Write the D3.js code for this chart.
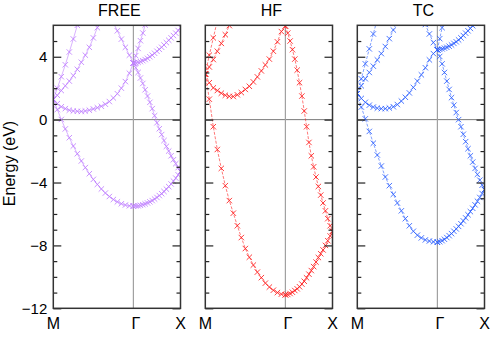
<!DOCTYPE html>
<html>
<head>
<meta charset="utf-8">
<script src="https://cdn.jsdelivr.net/npm/d3@7"></script>
<style>
  body { margin: 0; background: #fff; }
  svg { display: block; font-family: "Liberation Sans", Arial, Helvetica, sans-serif; }
</style>
</head>
<body>
<div id="chart"></div>
<script>
"use strict"

// k sampling along M-Gamma and Gamma-X (fraction of each segment)
const kFrac = [0,0.05,0.1,0.15,0.2,0.25,0.3,0.35,0.4,0.45,0.5,0.55,0.6,0.65,0.7,0.75,0.8,0.85,0.9,0.95,1];
const kLabels = ["M", "Γ", "X"];
const yMajor = [-12, -8, -4, 0, 4];
const yMinor = [-11,-10,-9,-7,-6,-5,-3,-2,-1,1,2,3,5];
const titles = ["FREE", "HF", "TC"];

const _ = null;

// FREE bands, energies in eV
const freeMG1 = [1.3,0.64,0.01,-0.59,-1.15,-1.68,-2.17,-2.63,-3.05,-3.44,-3.8,-4.12,-4.41,-4.67,-4.89,-5.08,-5.23,-5.35,-5.43,-5.48,-5.5];
const freeMG2 = [1.27,1.02,0.82,0.7,0.6,0.55,0.53,0.52,0.55,0.6,0.68,0.76,0.85,0.98,1.15,1.38,1.65,2.0,2.42,2.95,3.6];
const freeMG3 = [1.27,1.55,1.85,2.15,2.45,2.8,3.2,3.65,4.1,4.6,5.2,5.85,6.5,_,_,_,_,_,_,_,_];
const freeMG4 = [1.3,2.0,2.73,3.49,4.3,5.13,6.0,6.9,_,_,_,_,_,_,_,_,_,_,_,_,_];
const freeMG5 = [_,_,_,_,_,_,_,_,_,_,_,_,_,_,_,6.15,5.65,5.12,4.6,4.1,3.6];
const freeGX1 = [-5.5,-5.49,-5.48,-5.45,-5.41,-5.36,-5.3,-5.23,-5.15,-5.05,-4.95,-4.83,-4.71,-4.57,-4.42,-4.26,-4.09,-3.91,-3.72,-3.51,-3.3];
const freeGX2 = [3.6,3.61,3.65,3.69,3.75,3.82,3.9,4.0,4.1,4.22,4.35,4.47,4.6,4.75,4.9,5.05,5.2,5.35,5.5,5.67,5.85];
const freeGX3 = [3.6,3.3,3.0,2.65,2.3,1.9,1.5,1.1,0.7,0.25,-0.2,-0.58,-0.95,-1.33,-1.7,-2.0,-2.3,-2.55,-2.8,-3.05,-3.3];
const freeGX4 = [3.6,4.07,4.53,5.02,5.51,6.02,6.5,_,_,_,_,_,_,_,_,_,_,_,_,_,_];

// HF bands
const hfMG1 = [2.9,1.3,-0.45,-1.9,-3.1,-4.2,-5.15,-5.95,-6.75,-7.5,-8.2,-8.75,-9.25,-9.7,-10.05,-10.4,-10.65,-10.85,-11.0,-11.1,-11.14];
const hfMG2 = [2.9,2.35,2.02,1.85,1.68,1.55,1.48,1.47,1.58,1.72,1.92,2.12,2.4,2.72,3.1,3.48,3.85,4.35,4.95,5.6,5.95];
const hfMG3 = [2.9,3.35,3.82,4.35,4.85,5.4,5.98,6.6,_,_,_,_,_,_,_,_,_,_,_,_,_];
const hfMG4 = [2.9,4.1,5.2,6.3,_,_,_,_,_,_,_,_,_,_,_,_,_,_,_,_,_];
const hfGX1 = [-11.14,-11.12,-11.06,-10.98,-10.87,-10.76,-10.63,-10.46,-10.28,-10.06,-9.83,-9.6,-9.35,-9.06,-8.77,-8.53,-8.29,-8.0,-7.7,-7.4,-7.1];
const hfGX2 = [5.95,5.5,5.0,4.45,3.85,3.15,2.35,1.5,0.55,-0.45,-1.45,-2.3,-3.0,-3.65,-4.25,-4.8,-5.3,-5.8,-6.3,-6.75,-7.1];

// TC bands
const tcMG1 = [1.65,0.8,0.05,-0.75,-1.5,-2.25,-2.95,-3.65,-4.2,-4.75,-5.3,-5.8,-6.3,-6.75,-7.1,-7.35,-7.52,-7.65,-7.72,-7.77,-7.8];
const tcMG2 = [1.65,1.35,1.1,0.92,0.8,0.73,0.7,0.7,0.74,0.82,0.96,1.18,1.42,1.7,2.05,2.45,2.85,3.3,3.8,4.2,4.45];
const tcMG3 = [1.65,2.15,2.6,3.0,3.4,3.8,4.2,4.65,5.15,5.7,6.3,_,_,_,_,_,_,_,_,_,_];
const tcMG4 = [1.65,2.6,3.55,4.5,5.45,6.4,_,_,_,_,_,_,_,_,_,_,_,_,_,_,_];
const tcMG5 = [_,_,_,_,_,_,_,_,_,_,_,_,_,_,_,_,6.6,6.05,5.45,4.9,4.45];
const tcGX1 = [-7.8,-7.76,-7.7,-7.61,-7.5,-7.38,-7.25,-7.1,-6.95,-6.79,-6.62,-6.44,-6.25,-6.05,-5.85,-5.64,-5.42,-5.19,-4.95,-4.7,-4.45];
const tcGX2 = [4.45,4.02,3.55,3.0,2.45,1.92,1.4,0.92,0.45,0.0,-0.45,-0.93,-1.4,-1.85,-2.3,-2.7,-3.1,-3.48,-3.85,-4.17,-4.45];
const tcGX3 = [4.45,4.47,4.5,4.55,4.6,4.67,4.75,4.85,4.95,5.07,5.2,5.35,5.5,5.65,5.8,5.97,6.15,_,_,_,_];
const tcGX4 = [4.45,5.15,5.85,6.5,_,_,_,_,_,_,_,_,_,_,_,_,_,_,_,_,_];

// path lengths: |M-Gamma| and |Gamma-X|
const lenMG = 1.7, lenGX = 1.0;

const panels = [
    { title: titles[0], color: "#bf80ff", dash: null,
      mg: [freeMG1, freeMG2, freeMG3, freeMG4, freeMG5], gx: [freeGX1, freeGX2, freeGX3, freeGX4] },
    { title: titles[1], color: "#ff1f1f", dash: "3,1.5",
      mg: [hfMG1, hfMG2, hfMG3, hfMG4], gx: [hfGX1, hfGX2] },
    { title: titles[2], color: "#2f62ff", dash: "3,1.5",
      mg: [tcMG1, tcMG2, tcMG3, tcMG4, tcMG5], gx: [tcGX1, tcGX2, tcGX3, tcGX4] }
];

const width = 491, height = 338;
const plotTop = 25.3, plotBottom = 308.3;
const panelW = 127.2, panelLeft = [53.3, 205.3, 357.3];

const svg = d3.select("#chart").append("svg")
    .attr("width", width)
    .attr("height", height);

const y = d3.scaleLinear().domain([-12, 6]).range([plotBottom, plotTop]);

panels.forEach((p, i) => {
    const x0 = panelLeft[i];
    const x = d3.scaleLinear().domain([0, lenMG + lenGX]).range([x0, x0 + panelW]);
    const g = svg.append("g");

    g.append("clipPath").attr("id", "clip" + i)
        .append("rect")
        .attr("x", x0).attr("y", plotTop)
        .attr("width", panelW).attr("height", plotBottom - plotTop);

    // zero line and Gamma line
    g.append("line")
        .attr("x1", x0).attr("x2", x0 + panelW)
        .attr("y1", y(0)).attr("y2", y(0))
        .attr("stroke", "#7a7a7a").attr("stroke-width", 1);
    g.append("line")
        .attr("x1", x(lenMG)).attr("x2", x(lenMG))
        .attr("y1", plotTop).attr("y2", plotBottom)
        .attr("stroke", "#a0a0a0").attr("stroke-width", 1.2);

    // collect bands as point lists
    const bands = [];
    p.mg.forEach(arr => bands.push(arr.map((e, j) => ({ k: kFrac[j] * lenMG, e: e }))));
    p.gx.forEach(arr => bands.push(arr.map((e, j) => ({ k: lenMG + kFrac[j] * lenGX, e: e }))));

    const line = d3.line()
        .defined(d => d.e !== null)
        .x(d => x(d.k))
        .y(d => y(d.e));

    const plot = g.append("g").attr("clip-path", "url(#clip" + i + ")");

    plot.selectAll("path.band").data(bands).enter().append("path")
        .attr("class", "band")
        .attr("d", line)
        .attr("fill", "none")
        .attr("stroke", p.color)
        .attr("stroke-opacity", 0.6)
        .attr("stroke-width", 1)
        .attr("stroke-dasharray", p.dash);

    const pts = bands.flat().filter(d => d.e !== null);
    plot.selectAll("path.mark").data(pts).enter().append("path")
        .attr("class", "mark")
        .attr("transform", d => "translate(" + x(d.k) + "," + y(d.e) + ")")
        .attr("d", "M-2.7,-2.7L2.7,2.7M-2.7,2.7L2.7,-2.7")
        .attr("stroke", p.color)
        .attr("stroke-opacity", 0.85)
        .attr("stroke-width", 1);

    // ticks, pointing inward
    const leftMajor = d3.axisLeft(y).tickValues(yMajor).tickSize(-8).tickPadding(6);
    if (i > 0) leftMajor.tickFormat("");
    const gl = g.append("g").attr("transform", "translate(" + x0 + ",0)").call(leftMajor);
    g.append("g").attr("transform", "translate(" + x0 + ",0)")
        .call(d3.axisLeft(y).tickValues(yMinor).tickSize(-4).tickFormat(""));
    g.append("g").attr("transform", "translate(" + (x0 + panelW) + ",0)")
        .call(d3.axisRight(y).tickValues(yMajor).tickSize(-8).tickFormat(""));
    g.append("g").attr("transform", "translate(" + (x0 + panelW) + ",0)")
        .call(d3.axisRight(y).tickValues(yMinor).tickSize(-4).tickFormat(""));

    g.selectAll(".domain").remove();
    g.selectAll(".tick line").attr("stroke", "#222").attr("stroke-width", 1.2);
    gl.selectAll(".tick text")
        .attr("font-size", 15)
        .attr("fill", "#000")
        .attr("font-family", "Liberation Sans, Arial, sans-serif");

    // frame
    g.append("rect")
        .attr("x", x0).attr("y", plotTop)
        .attr("width", panelW).attr("height", plotBottom - plotTop)
        .attr("fill", "none")
        .attr("stroke", "#333")
        .attr("stroke-width", 1.5);

    // title
    g.append("text")
        .attr("x", x0 + panelW / 2 + 2.5)
        .attr("y", 16)
        .attr("text-anchor", "middle")
        .attr("font-size", 16)
        .text(p.title);

    // k-point labels
    const kPos = [0, lenMG, lenMG + lenGX];
    g.selectAll("text.klab").data(kLabels).enter().append("text")
        .attr("class", "klab")
        .attr("x", (d, j) => x(kPos[j]) + (j === 1 ? 2.5 : 0))
        .attr("y", 329)
        .attr("text-anchor", "middle")
        .attr("font-size", 16)
        .text(d => d);
});

svg.append("text")
    .attr("transform", "translate(15," + 163.5 + ") rotate(-90)")
    .attr("text-anchor", "middle")
    .attr("font-size", 16)
    .text("Energy (eV)");
</script>
</body>
</html>
